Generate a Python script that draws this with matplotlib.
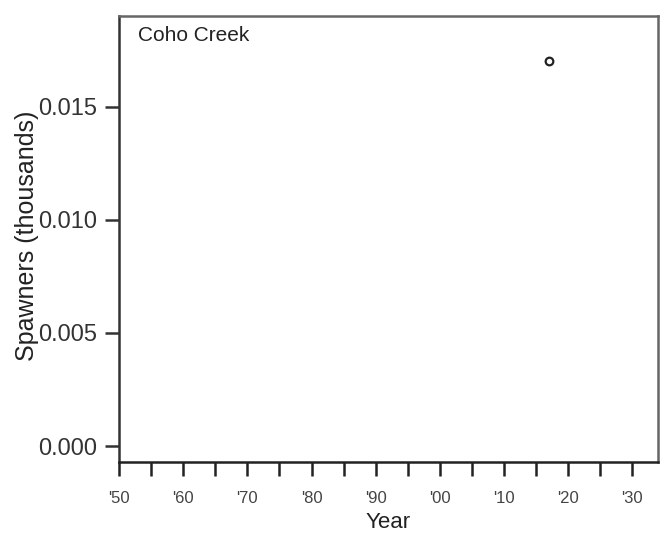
import matplotlib.pyplot as plt

# Data
years = [2017]
spawners = [0.017]
site = 'Coho Creek'

xticks = list(range(1950, 2035, 5))
xlabels = ["'" + str(y)[2:] if y % 10 == 0 else '' for y in xticks]
yticks = [0.000, 0.005, 0.010, 0.015]

plt.rcParams['font.family'] = ['Liberation Sans', 'DejaVu Sans']

fig = plt.figure(figsize=(6.66, 5.38), dpi=100)
ax = fig.add_axes([0.1787, 0.1413, 0.8093, 0.829])

ax.plot(years, spawners, 'o', markersize=5.5, markerfacecolor='none',
        markeredgecolor='#222222', markeredgewidth=1.6)

ax.set_xlim(1950, 2034)
ax.set_ylim(-0.0007, 0.019)

# box lines: lighter frame, darker axis lines
for s in ['top', 'right']:
    ax.spines[s].set_color('#666666')
    ax.spines[s].set_linewidth(1.8)
ax.spines['left'].set_color('#333333')
ax.spines['left'].set_linewidth(1.8)
ax.spines['bottom'].set_color('#222222')
ax.spines['bottom'].set_linewidth(1.8)

ax.set_xticks(xticks)
ax.set_xticklabels(xlabels, fontsize=12, color='#444444')
ax.set_yticks(yticks)
ax.set_yticklabels([f'{v:.3f}' for v in yticks], fontsize=17, color='#333333')
ax.tick_params(axis='x', length=10, width=1.8, color='#222222', pad=11)
ax.tick_params(axis='y', length=10, width=1.8, color='#333333', pad=6)

ax.text(0.035, 0.978, site, transform=ax.transAxes, fontsize=15,
        ha='left', va='top', color='#222222')

ax.set_xlabel('Year', fontsize=16, color='#222222', labelpad=4)
fig.text(0.040, 0.561, 'Spawners (thousands)', rotation=90, fontsize=18,
         ha='center', va='center', color='#222222')

fig.savefig('out.png', dpi=100)
